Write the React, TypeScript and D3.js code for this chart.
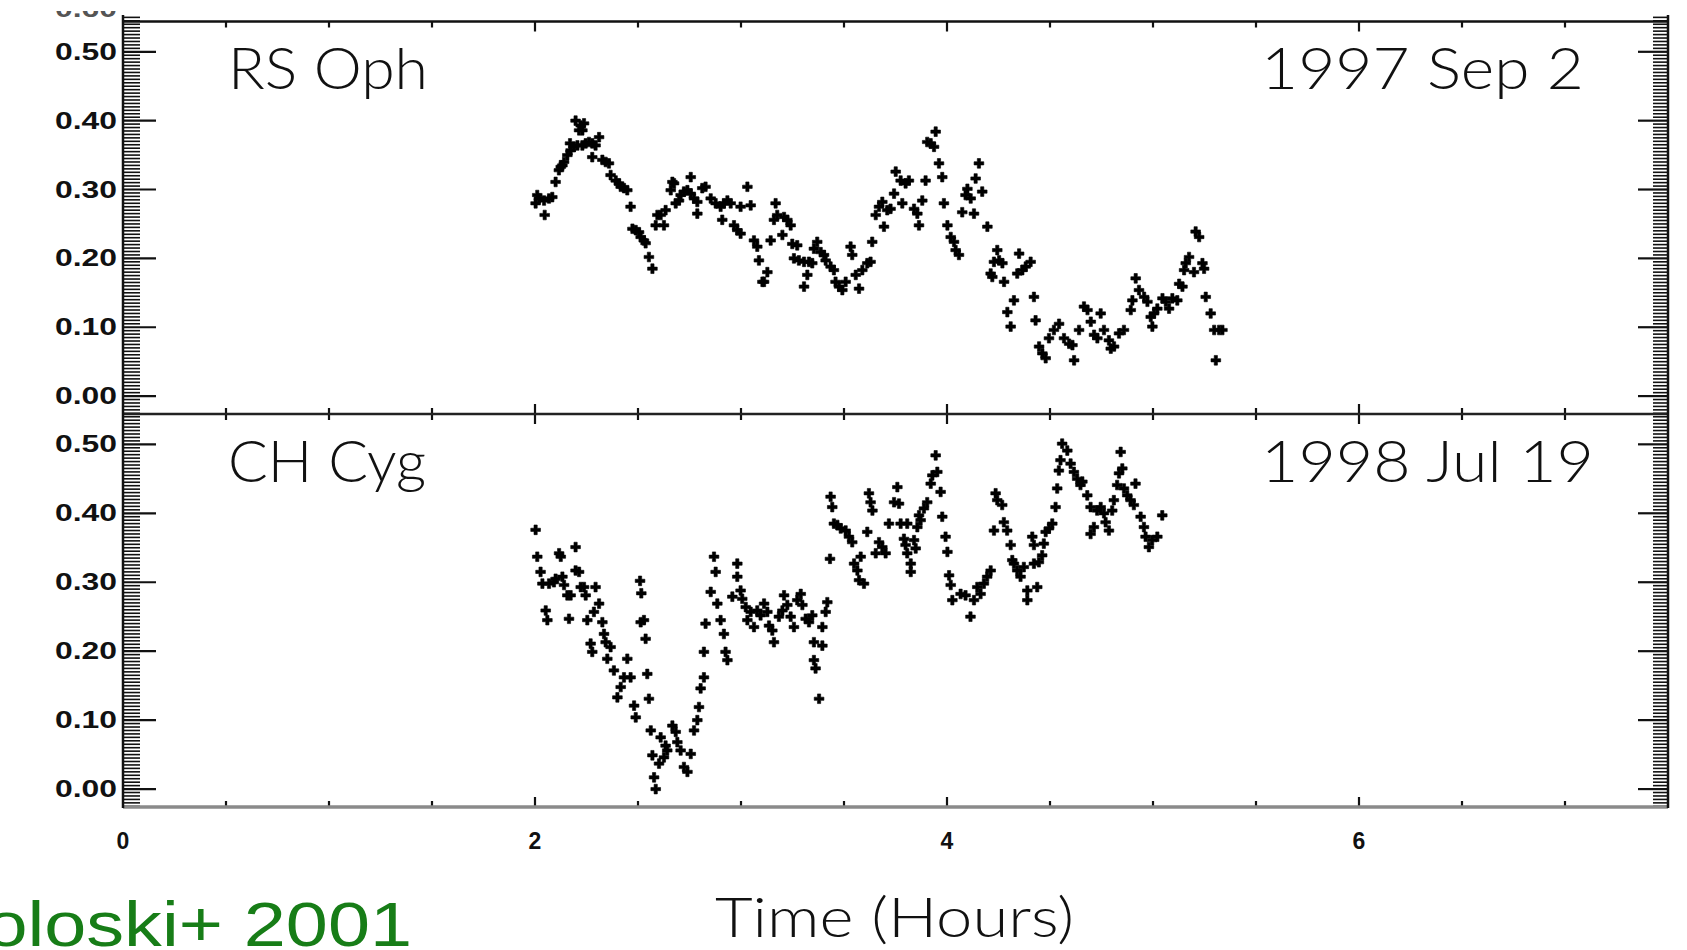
import React from "react";
import * as d3 from "d3";

// RS Oph, 1997 Sep 2 — flickering light curve (time in hours, relative magnitude)
const rsOphTime = [
  2.003, 2.011, 2.019, 2.044, 2.047, 2.068, 2.084, 2.100, 2.116, 2.125, 2.133, 2.141, 2.157, 2.173, 2.170,
  2.189, 2.197, 2.222, 2.238, 2.214, 2.230, 2.206, 2.230, 2.246, 2.262, 2.278, 2.294, 2.311, 2.278, 2.327,
  2.343, 2.359, 2.367, 2.392, 2.408, 2.416, 2.432, 2.448, 2.464, 2.473, 2.489, 2.505, 2.513, 2.529, 2.537,
  2.553, 2.570, 2.586, 2.594, 2.610, 2.626, 2.634, 2.659, 2.667, 2.675, 2.683, 2.699, 2.707, 2.723, 2.740,
  2.756, 2.756, 2.772, 2.788, 2.788, 2.812, 2.828, 2.853, 2.877, 2.901, 2.909, 2.917, 2.934, 2.950, 2.966,
  2.982, 2.998, 2.998, 3.031, 3.047, 3.063, 3.079, 3.087, 3.104,
  3.128, 3.112, 3.144, 3.160, 3.168, 3.176, 3.201, 3.209, 3.225, 3.241, 3.249, 3.273, 3.257, 3.281, 3.306,
  3.322, 3.306, 3.330, 3.346, 3.354, 3.370, 3.387, 3.403, 3.411, 3.435, 3.451, 3.459, 3.476, 3.492, 3.508,
  3.532, 3.540, 3.557, 3.573, 3.589, 3.613, 3.629, 3.637, 3.654, 3.670, 3.686, 3.694, 3.710, 3.726, 3.743,
  3.751, 3.775, 3.783, 3.799, 3.815, 3.840, 3.856, 3.864, 3.880, 3.896, 3.904, 3.921, 3.937, 3.945, 3.961,
  3.977, 3.985, 4.002, 4.018, 4.034, 4.042, 4.058, 4.074, 4.090, 4.099, 4.115, 4.131, 4.139, 4.155, 4.171,
  4.196, 4.212, 4.220, 4.228,
  4.244, 4.253, 4.269, 4.277, 4.350, 4.341, 4.366, 4.382, 4.406, 4.422, 4.325, 4.293, 4.309, 4.430, 4.447,
  4.463, 4.479, 4.495, 4.519, 4.544, 4.568, 4.593, 4.609, 4.617, 4.641, 4.665, 4.682, 4.698, 4.714, 4.730,
  4.746, 4.762, 4.786, 4.795, 4.811, 4.835, 4.859, 4.892, 4.900, 4.916, 4.932, 4.957, 4.973, 4.989, 4.997,
  5.005, 5.021, 5.046, 5.062, 5.078, 5.094, 5.118, 5.127, 5.143, 5.151, 5.159, 5.175, 5.199, 5.207, 5.224,
  5.240, 5.248, 5.256, 5.280, 5.297, 5.321, 5.337, 5.305,
];
const rsOphFlux = [
  0.280, 0.292, 0.287, 0.284, 0.263, 0.287, 0.289, 0.311, 0.328, 0.333, 0.335, 0.340, 0.350, 0.357, 0.367,
  0.362, 0.400, 0.393, 0.396, 0.386, 0.386, 0.364, 0.364, 0.367, 0.369, 0.367, 0.364, 0.376, 0.347, 0.343,
  0.340, 0.338, 0.321, 0.313, 0.309, 0.304, 0.302, 0.299, 0.275, 0.243, 0.241, 0.238, 0.231, 0.226, 0.222,
  0.202, 0.185, 0.248, 0.263, 0.263, 0.248, 0.270, 0.299, 0.311, 0.309, 0.280, 0.284, 0.292, 0.297, 0.299,
  0.318, 0.294, 0.287, 0.282, 0.265, 0.302, 0.304, 0.287, 0.280, 0.275, 0.256, 0.280, 0.284, 0.280, 0.248,
  0.241, 0.236, 0.275, 0.304, 0.277, 0.226, 0.217, 0.197, 0.166,
  0.180, 0.166, 0.226, 0.256, 0.280, 0.263, 0.234, 0.260, 0.256, 0.248, 0.221, 0.219, 0.200, 0.197, 0.195,
  0.176, 0.159, 0.195, 0.193, 0.214, 0.224, 0.209, 0.205, 0.197, 0.188, 0.183, 0.166, 0.159, 0.154, 0.166,
  0.217, 0.205, 0.176, 0.156, 0.183, 0.193, 0.195, 0.224, 0.263, 0.275, 0.282, 0.246, 0.270, 0.272, 0.294,
  0.326, 0.313, 0.280, 0.309, 0.313, 0.272, 0.265, 0.248, 0.284, 0.313, 0.369, 0.367, 0.362, 0.384, 0.338,
  0.318, 0.280, 0.248, 0.231, 0.224, 0.212, 0.205, 0.267, 0.292, 0.301, 0.287, 0.265, 0.316, 0.338, 0.297,
  0.246, 0.178, 0.173, 0.195,
  0.212, 0.197, 0.193, 0.166, 0.207, 0.178, 0.183, 0.188, 0.195, 0.144, 0.139, 0.122, 0.101, 0.110, 0.072,
  0.062, 0.055, 0.084, 0.096, 0.105, 0.084, 0.076, 0.074, 0.052, 0.096, 0.130, 0.125, 0.108, 0.089, 0.084,
  0.120, 0.096, 0.081, 0.069, 0.072, 0.091, 0.096, 0.125, 0.139, 0.171, 0.154, 0.144, 0.137, 0.115, 0.101,
  0.120, 0.127, 0.142, 0.137, 0.127, 0.142, 0.139, 0.163, 0.159, 0.183, 0.193, 0.202, 0.180, 0.239, 0.231,
  0.193, 0.185, 0.144, 0.120, 0.096, 0.096, 0.096, 0.052,
];

// CH Cyg, 1998 Jul 19
const chCygTime = [
  2.003, 2.011, 2.027, 2.036, 2.052, 2.060, 2.068, 2.092, 2.100, 2.117, 2.125, 2.133, 2.141, 2.157, 2.173,
  2.165, 2.197, 2.197, 2.214, 2.222, 2.238, 2.246, 2.254, 2.270, 2.278, 2.286, 2.294, 2.311, 2.327, 2.335,
  2.343, 2.351, 2.367, 2.383, 2.400, 2.416, 2.432, 2.448, 2.464, 2.481, 2.489, 2.510, 2.516, 2.513, 2.529,
  2.537, 2.545, 2.553, 2.562, 2.570, 2.578, 2.586, 2.602, 2.610, 2.626, 2.634, 2.642, 2.667, 2.683, 2.691,
  2.707, 2.723, 2.740, 2.756, 2.772, 2.788, 2.796, 2.804, 2.820, 2.820, 2.828, 2.853, 2.869, 2.877, 2.885,
  2.901, 2.917, 2.925, 2.934, 2.958, 2.982, 2.982, 2.998,
  3.006, 3.023, 3.031, 3.047, 3.063, 3.079, 3.095, 3.112, 3.128, 3.136, 3.152, 3.160, 3.184, 3.201, 3.209,
  3.225, 3.241, 3.257, 3.273, 3.290, 3.298, 3.314, 3.330, 3.346, 3.354, 3.354, 3.362, 3.379, 3.395, 3.395,
  3.411, 3.419, 3.432, 3.435, 3.443, 3.451, 3.468, 3.484, 3.508, 3.524, 3.540, 3.549, 3.565, 3.573, 3.581,
  3.597, 3.613, 3.621, 3.629, 3.638, 3.654, 3.670, 3.686, 3.702, 3.718, 3.743, 3.759, 3.767, 3.775, 3.791,
  3.799, 3.807, 3.807, 3.824, 3.824, 3.840, 3.848, 3.856, 3.864, 3.872, 3.888, 3.904, 3.921, 3.929, 3.945,
  3.953, 3.969, 3.977, 3.993, 4.002, 4.010, 4.018, 4.026,
  4.066, 4.090, 4.114, 4.131, 4.147, 4.163, 4.179, 4.195, 4.212, 4.228, 4.236, 4.244, 4.268, 4.276, 4.292,
  4.309, 4.317, 4.325, 4.341, 4.357, 4.373, 4.390, 4.390, 4.414, 4.422, 4.422, 4.438, 4.446, 4.462, 4.470,
  4.479, 4.495, 4.511, 4.527, 4.535, 4.543, 4.551, 4.559, 4.584, 4.600, 4.616, 4.632, 4.648, 4.657, 4.681,
  4.697, 4.697, 4.713, 4.729, 4.746, 4.762, 4.770, 4.786, 4.802, 4.810, 4.826, 4.835, 4.843, 4.851, 4.859,
  4.875, 4.891, 4.907, 4.915, 4.940, 4.956, 4.964, 4.980, 4.996, 5.021, 5.045,
];
const chCygFlux = [
  0.376, 0.337, 0.315, 0.298, 0.259, 0.245, 0.298, 0.300, 0.305, 0.342, 0.337, 0.308, 0.296, 0.281, 0.281,
  0.247, 0.351, 0.317, 0.315, 0.293, 0.293, 0.281, 0.245, 0.211, 0.199, 0.257, 0.293, 0.269, 0.242, 0.225,
  0.213, 0.189, 0.206, 0.172, 0.133, 0.148, 0.162, 0.189, 0.162, 0.121, 0.104, 0.302, 0.284, 0.242, 0.245,
  0.218, 0.167, 0.131, 0.085, 0.049, 0.017, 0.000, 0.037, 0.075, 0.046, 0.063, 0.056, 0.092, 0.083, 0.068,
  0.056, 0.032, 0.025, 0.051, 0.085, 0.100, 0.119, 0.146, 0.162, 0.199, 0.240, 0.286, 0.337, 0.315, 0.269,
  0.245, 0.225, 0.199, 0.187, 0.279, 0.327, 0.308, 0.288,
  0.276, 0.264, 0.245, 0.257, 0.235, 0.259, 0.252, 0.269, 0.257, 0.237, 0.230, 0.213, 0.250, 0.259, 0.281,
  0.267, 0.250, 0.235, 0.274, 0.283, 0.267, 0.247, 0.242, 0.252, 0.213, 0.187, 0.175, 0.131, 0.208, 0.235,
  0.257, 0.271, 0.334, 0.424, 0.409, 0.385, 0.383, 0.378, 0.375, 0.366, 0.358, 0.327, 0.317, 0.303, 0.337,
  0.298, 0.373, 0.429, 0.416, 0.404, 0.342, 0.358, 0.351, 0.342, 0.385, 0.416, 0.438, 0.414, 0.385, 0.363,
  0.354, 0.385, 0.342, 0.327, 0.315, 0.361, 0.349, 0.380, 0.397, 0.390, 0.407, 0.416, 0.443, 0.455, 0.484,
  0.460, 0.431, 0.395, 0.366, 0.344, 0.310, 0.296, 0.274,
  0.283, 0.281, 0.250, 0.274, 0.293, 0.283, 0.298, 0.308, 0.317, 0.375, 0.429, 0.419, 0.412, 0.387, 0.375,
  0.354, 0.332, 0.327, 0.317, 0.308, 0.322, 0.288, 0.274, 0.366, 0.354, 0.327, 0.293, 0.329, 0.339, 0.356,
  0.373, 0.378, 0.385, 0.409, 0.436, 0.462, 0.477, 0.501, 0.491, 0.472, 0.460, 0.450, 0.441, 0.446, 0.426,
  0.409, 0.370, 0.380, 0.404, 0.409, 0.400, 0.387, 0.375, 0.404, 0.419, 0.441, 0.458, 0.489, 0.465, 0.436,
  0.426, 0.419, 0.412, 0.443, 0.395, 0.380, 0.366, 0.351, 0.361, 0.366, 0.397,
];

const starNames = ["RS Oph", "CH Cyg"];
const obsDates = ["1997 Sep 2", "1998 Jul 19"];
const yTickValues = [0, 0.1, 0.2, 0.3, 0.4, 0.5];
const xTickValues = [0, 2, 4, 6];
const xAxisTitle = "Time (Hours)";
const creditText = "Sokoloski+ 2001";
const strayLabel = "0.60";

const W = 1687;
const H = 950;
const X0 = 123;
const X1 = 1668;
const panelBounds = [
  { top: 21.5, bottom: 414 },
  { top: 414, bottom: 807 },
];
const yDomain: [number, number] = [-0.026, 0.544];

const x = d3.scaleLinear().domain([0, 7.5]).range([X0, X1]);
const cross = d3.symbol(d3.symbolCross, 52)();

const labelFont = "Lato, 'Open Sans', 'Liberation Sans', sans-serif";
const tickFont = "'Liberation Sans', Arial, sans-serif";

function Panel({ idx, times, flux }: { idx: number; times: number[]; flux: number[] }) {
  const { top, bottom } = panelBounds[idx];
  const y = d3.scaleLinear().domain(yDomain).range([bottom, top]);
  // dense minor ticks every 0.005, extending slightly above the top frame on the first panel
  const maxI = idx === 0 ? 110 : 108;
  const fine = d3.range(-5, maxI + 1).map((i) => i / 200);
  const xMinor = d3.range(1, 15).map((i) => i / 2);
  return (
    <g>
      {/* y ticks, left and right */}
      {fine.map((v, i) => {
        const major = Math.round(v * 200) % 20 === 0;
        const yy = y(v);
        return (
          <g key={"yt" + i}>
            <line x1={X0} x2={X0 + (major ? 33 : 17)} y1={yy} y2={yy} stroke="#111" strokeWidth={major ? 2.2 : 1.6} />
            <line x1={X1} x2={X1 - (major ? 30 : 15)} y1={yy} y2={yy} stroke="#111" strokeWidth={major ? 2.2 : 1.6} />
          </g>
        );
      })}
      {/* x ticks on top and bottom edges of the panel */}
      {xMinor.map((t, i) => {
        const major = t % 2 === 0;
        const len = major ? 10 : 6;
        return (
          <g key={"xt" + i}>
            <line x1={x(t)} x2={x(t)} y1={top} y2={top + len} stroke="#111" strokeWidth={2.2} />
            <line x1={x(t)} x2={x(t)} y1={bottom} y2={bottom - len} stroke="#111" strokeWidth={2.2} />
          </g>
        );
      })}
      {/* y tick labels */}
      {yTickValues.map((v) => (
        <text
          key={"yl" + v}
          x={55}
          y={y(v) + 8}
          textLength={62}
          lengthAdjust="spacingAndGlyphs"
          fontFamily={tickFont}
          fontWeight="bold"
          fontSize={23}
          fill="#111"
        >
          {v.toFixed(2)}
        </text>
      ))}
      {/* data points */}
      {times.map((t, i) => (
        <path
          key={"p" + i}
          d={cross}
          transform={`translate(${x(t)},${y(flux[i])})`}
          fill="#000"
          stroke="#000"
          strokeWidth={0.6}
        />
      ))}
      {/* panel labels */}
      <text
        x={228}
        y={top + 67.5}
        textLength={idx === 0 ? 200 : 198}
        lengthAdjust="spacingAndGlyphs"
        fontFamily={labelFont}
        fontWeight={300}
        fontSize={58}
        fill="#111"
      >
        {starNames[idx]}
      </text>
      <text
        x={1261}
        y={top + 67.5}
        textLength={idx === 0 ? 323 : 333}
        lengthAdjust="spacingAndGlyphs"
        fontFamily={labelFont}
        fontWeight={300}
        fontSize={58}
        fill="#111"
      >
        {obsDates[idx]}
      </text>
    </g>
  );
}

export default function App() {
  return (
    <svg
      width={W}
      height={H}
      viewBox={`0 0 ${W} ${H}`}
      style={{ position: "absolute", left: 0, top: 0, background: "#fff" }}
    >
      <defs>
        <clipPath id="strayClip">
          <rect x={0} y={11} width={130} height={7} />
        </clipPath>
      </defs>
      <rect x={0} y={0} width={W} height={H} fill="#fff" />

      {/* remnant of a label above the top frame, mostly outside the figure */}
      <text
        x={55}
        y={17}
        textLength={62}
        lengthAdjust="spacingAndGlyphs"
        fontFamily={tickFont}
        fontWeight="bold"
        fontSize={23}
        fill="#555"
        clipPath="url(#strayClip)"
      >
        {strayLabel}
      </text>

      <Panel idx={0} times={rsOphTime} flux={rsOphFlux} />
      <Panel idx={1} times={chCygTime} flux={chCygFlux} />

      {/* frame */}
      <line x1={X0} x2={X1} y1={21.5} y2={21.5} stroke="#111" strokeWidth={2.5} />
      <line x1={X0} x2={X1} y1={414} y2={414} stroke="#222" strokeWidth={2.5} />
      <line x1={X0} x2={X1} y1={807} y2={807} stroke="#8a8a8a" strokeWidth={3.5} />
      <line x1={X0} x2={X0} y1={15} y2={808} stroke="#111" strokeWidth={2.5} />
      <line x1={X1} x2={X1} y1={15} y2={808} stroke="#111" strokeWidth={2.5} />

      {/* x tick labels */}
      {xTickValues.map((t) => (
        <text
          key={"xl" + t}
          x={x(t)}
          y={849}
          textAnchor="middle"
          fontFamily={tickFont}
          fontWeight="bold"
          fontSize={23}
          fill="#111"
        >
          {t}
        </text>
      ))}

      {/* axis title */}
      <text
        x={715}
        y={937}
        textLength={359}
        lengthAdjust="spacingAndGlyphs"
        fontFamily={labelFont}
        fontWeight={300}
        fontSize={55}
        fill="#111"
      >
        {xAxisTitle}
      </text>

      {/* citation */}
      <text
        transform="translate(412,946) scale(1.2,1)"
        textAnchor="end"
        fontFamily="'Liberation Sans', Arial, sans-serif"
        fontSize={63}
        fill="#177d17"
      >
        {creditText}
      </text>
    </svg>
  );
}
